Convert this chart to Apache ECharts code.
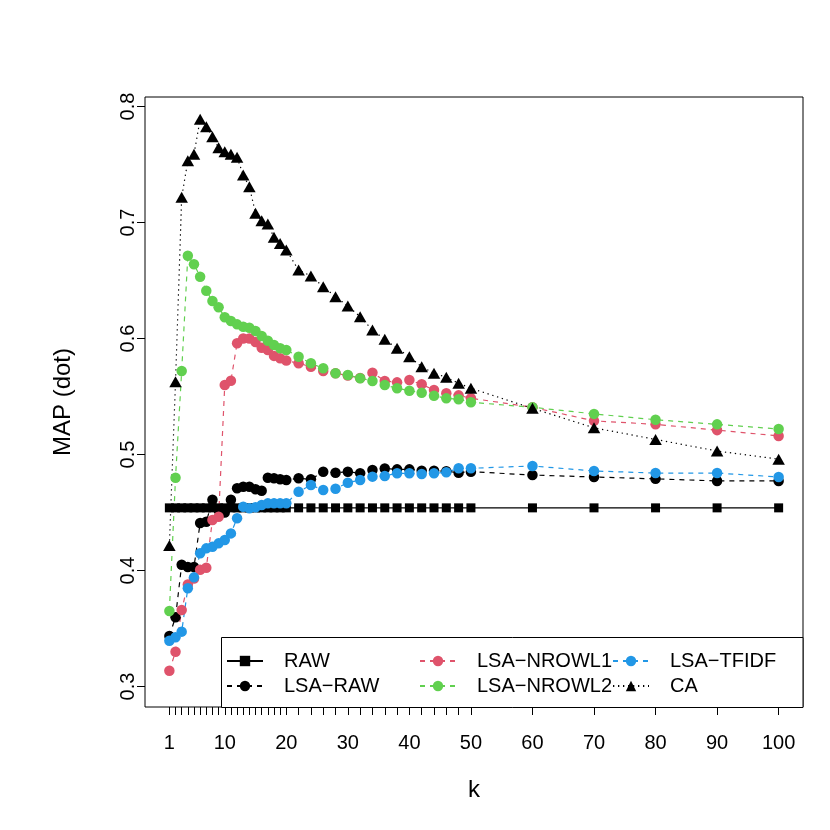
<!DOCTYPE html>
<html>
<head>
<meta charset="utf-8">
<script src="https://cdn.jsdelivr.net/npm/echarts@6/dist/echarts.min.js"></script>
<style>html,body{margin:0;padding:0;background:#fff}#c{width:830px;height:830px}</style>
</head>
<body>
<div id="c"></div>
<script>
var ks = [1,2,3,4,5,6,7,8,9,10,11,12,13,14,15,16,17,18,19,20,22,24,26,28,30,32,34,36,38,40,42,44,46,48,50,60,70,80,90,100];
var xLabelValues = [1,10,20,30,40,50,60,70,80,90,100];
var yLabelValues = [0.3,0.4,0.5,0.6,0.7,0.8];
var seriesNames = ['RAW','LSA-RAW','LSA-NROWL1','LSA-NROWL2','LSA-TFIDF','CA'];

var rawVals = [0.454,0.454,0.454,0.454,0.454,0.454,0.454,0.454,0.454,0.454,0.454,0.454,0.454,0.454,0.454,0.454,0.454,0.454,0.454,0.454,
  0.454,0.454,0.454,0.454,0.454,0.454,0.454,0.454,0.454,0.454,0.454,0.454,0.454,0.454,0.454,0.454,0.454,0.454,0.454,0.454];
var lsaRawVals = [0.3435,0.3597,0.405,0.403,0.403,0.441,0.442,0.461,0.452,0.450,0.461,0.4709,0.4722,0.4722,0.470,0.4688,0.480,0.4795,0.4786,0.478,
  0.4795,0.4786,0.4852,0.4843,0.4852,0.4838,0.4866,0.488,0.4872,0.4872,0.486,0.486,0.4855,0.4843,0.4852,0.4823,0.4806,0.479,0.4772,0.4772];
var nrowl1Vals = [0.3136,0.330,0.366,0.388,0.393,0.4006,0.4024,0.4435,0.4464,0.5599,0.5636,0.5959,0.600,0.600,0.597,0.592,0.590,0.585,0.583,0.581,
  0.5786,0.5757,0.572,0.570,0.568,0.566,0.5705,0.5634,0.5622,0.5642,0.5605,0.5556,0.5528,0.551,0.5485,0.5407,0.529,0.526,0.521,0.516];
var nrowl2Vals = [0.3651,0.480,0.572,0.6714,0.664,0.6533,0.6412,0.6323,0.6269,0.6183,0.6151,0.6122,0.6102,0.6093,0.6065,0.6022,0.5981,0.5944,0.5916,0.5901,
  0.5843,0.5786,0.5743,0.570,0.5685,0.5657,0.5634,0.5599,0.5571,0.555,0.5533,0.5507,0.5484,0.5476,0.545,0.5407,0.535,0.530,0.526,0.522];
var tfidfVals = [0.3395,0.3424,0.3473,0.3847,0.3941,0.4148,0.4191,0.4205,0.4234,0.4263,0.432,0.445,0.455,0.4536,0.4545,0.4565,0.4579,0.4579,0.4579,0.458,
  0.4679,0.4737,0.4694,0.4705,0.4757,0.478,0.4809,0.4815,0.4838,0.4838,0.4832,0.4838,0.4847,0.4881,0.4881,0.4901,0.4858,0.484,0.484,0.4806];
var caVals = [0.4216,0.5628,0.7217,0.7533,0.7588,0.789,0.7826,0.774,0.7645,0.761,0.7588,0.7562,0.741,0.7309,0.7079,0.7016,0.6987,0.6872,0.682,0.6763,
  0.659,0.6539,0.6447,0.636,0.628,0.6188,0.6073,0.5993,0.5915,0.5843,0.5756,0.570,0.5666,0.5614,0.5571,0.5398,0.523,0.513,0.503,0.496];

var FONT = "'Liberation Sans', Arial, Helvetica, sans-serif";
function pairs(vals){ return ks.map(function(k,i){ return [k, vals[i]]; }); }
var dash = [5,5], dot = [1.3,3.7];
function mk(name, vals, color, symbol, size, ltype){
  return {
    name: name, type: 'line', data: pairs(vals), symbol: symbol, symbolSize: size,
    showSymbol: true, animation: false,
    lineStyle: {color: color, width: 1.2, type: ltype},
    itemStyle: {color: color, borderWidth: 0}, emphasis: {disabled: true}
  };
}
var series = [
  mk(seriesNames[0], rawVals, '#000000', 'rect', 9, 'solid'),
  mk(seriesNames[1], lsaRawVals, '#000000', 'circle', 10.5, dash),
  mk(seriesNames[2], nrowl1Vals, '#DF536B', 'circle', 10.5, dash),
  mk(seriesNames[3], nrowl2Vals, '#61D04F', 'circle', 10.5, dash),
  mk(seriesNames[4], tfidfVals, '#2297E6', 'circle', 10.5, dash),
  mk(seriesNames[5], caVals, '#000000', 'triangle', [12.5, 11], dot)
];
function leg(names, left){
  return {
    data: names, orient: 'vertical', left: left, top: 651, itemWidth: 36, itemHeight: 13,
    itemGap: 5, padding: 0, selectedMode: false, z: 20,
    formatter: function(n){ return n.replace(/-/g, '\u2212'); },
    textStyle: {fontFamily: FONT, fontSize: 20, color: '#000', padding: [0,0,0,16]}
  };
}
var chart = echarts.init(document.getElementById('c'), null, {renderer: 'canvas'});
chart.setOption({
  animation: false,
  backgroundColor: '#fff',
  grid: {left: 145, top: 97, width: 658, height: 610, show: true, borderColor: '#000', borderWidth: 1, backgroundColor: 'transparent', containLabel: false},
  xAxis: {
    type: 'value', min: -2.96, max: 103.96,
    name: 'k', nameLocation: 'middle', nameGap: 71,
    nameTextStyle: {fontFamily: FONT, fontSize: 24, color: '#000'},
    axisLine: {show: false, onZero: false},
    axisTick: {show: true, customValues: ks, length: 8, inside: false, lineStyle: {color: '#000', width: 1}},
    axisLabel: {customValues: xLabelValues, margin: 26, fontFamily: FONT, fontSize: 20, color: '#000'},
    splitLine: {show: false}
  },
  yAxis: {
    type: 'value', min: 0.28233, max: 0.80819,
    name: 'MAP (dot)', nameLocation: 'middle', nameGap: 70, nameRotate: 90,
    nameTextStyle: {fontFamily: FONT, fontSize: 24, color: '#000'},
    axisLine: {show: false, onZero: false},
    axisTick: {show: true, customValues: yLabelValues, length: 8, inside: false, lineStyle: {color: '#000', width: 1}},
    axisLabel: {customValues: yLabelValues, rotate: 90, margin: 7, fontFamily: FONT, fontSize: 20, color: '#000',
      formatter: function(v){ return v.toFixed(1); }},
    splitLine: {show: false}
  },
  legend: [
    leg([seriesNames[0], seriesNames[1]], 226),
    leg([seriesNames[2], seriesNames[3]], 419),
    leg([seriesNames[4], seriesNames[5]], 612)
  ],
  graphic: [{
    type: 'rect', z: 15, silent: true,
    shape: {x: 221.5, y: 637.5, width: 581.5, height: 70},
    style: {fill: '#fff', stroke: '#000', lineWidth: 1}
  }],
  series: series
});
</script>
</body>
</html>
